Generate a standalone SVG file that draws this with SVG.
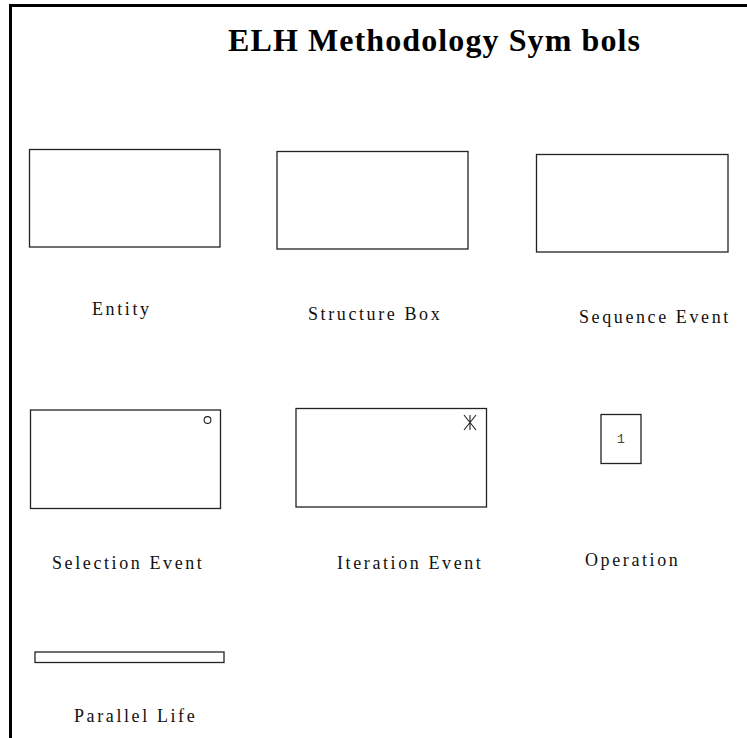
<svg xmlns="http://www.w3.org/2000/svg" width="747" height="738" viewBox="0 0 747 738">
<style>
.box{fill:#fff;stroke:#222;stroke-width:1.3}
.lbl{font-family:"Liberation Serif","Times New Roman",serif;font-size:18px;letter-spacing:2.6px;fill:#111}
.title{font-family:"Liberation Serif","Times New Roman",serif;font-size:32px;font-weight:bold;letter-spacing:1.1px;fill:#000}
.frame{stroke:#000;stroke-width:3;fill:none}
</style>
<rect width="747" height="738" fill="#fff"/>
<g id="frame">
<path class="frame" d="M10.5,738 V5.5 H747"/>
</g>
<g id="title"><text class="title" x="228" y="51">ELH Methodology Sym bols</text></g>
<g id="entity">
<rect class="box" x="29.5" y="149.5" width="190.5" height="97.5"/>
<text class="lbl" x="92" y="315">Entity</text>
</g>
<g id="structure-box">
<rect class="box" x="277" y="151.5" width="191" height="97.5"/>
<text class="lbl" x="308" y="320">Structure Box</text>
</g>
<g id="sequence-event">
<rect class="box" x="536.5" y="154.5" width="191.5" height="97.5"/>
<text class="lbl" x="579" y="323">Sequence Event</text>
</g>
<g id="selection-event">
<rect class="box" x="30.5" y="410" width="190" height="98.5"/>
<circle cx="207.5" cy="420" r="3.4" fill="none" stroke="#222" stroke-width="1.1"/>
<text class="lbl" x="52" y="569">Selection Event</text>
</g>
<g id="iteration-event">
<rect class="box" x="296" y="408.5" width="190.5" height="98.5"/>
<path d="M470,415 V430 M464,415 L476,430 M476,415 L464,430" stroke="#222" stroke-width="1.1" fill="none"/>
<text class="lbl" x="337" y="569">Iteration Event</text>
</g>
<g id="operation">
<rect class="box" x="601" y="414.5" width="40" height="49"/>
<text x="617" y="443" font-family="Liberation Mono, monospace" font-size="13" fill="#444">1</text>
<text class="lbl" x="585" y="566">Operation</text>
</g>
<g id="parallel-life">
<rect class="box" x="35" y="652" width="189" height="10.5"/>
<text class="lbl" x="74" y="722">Parallel Life</text>
</g>
<g id="connectors"></g>
</svg>
